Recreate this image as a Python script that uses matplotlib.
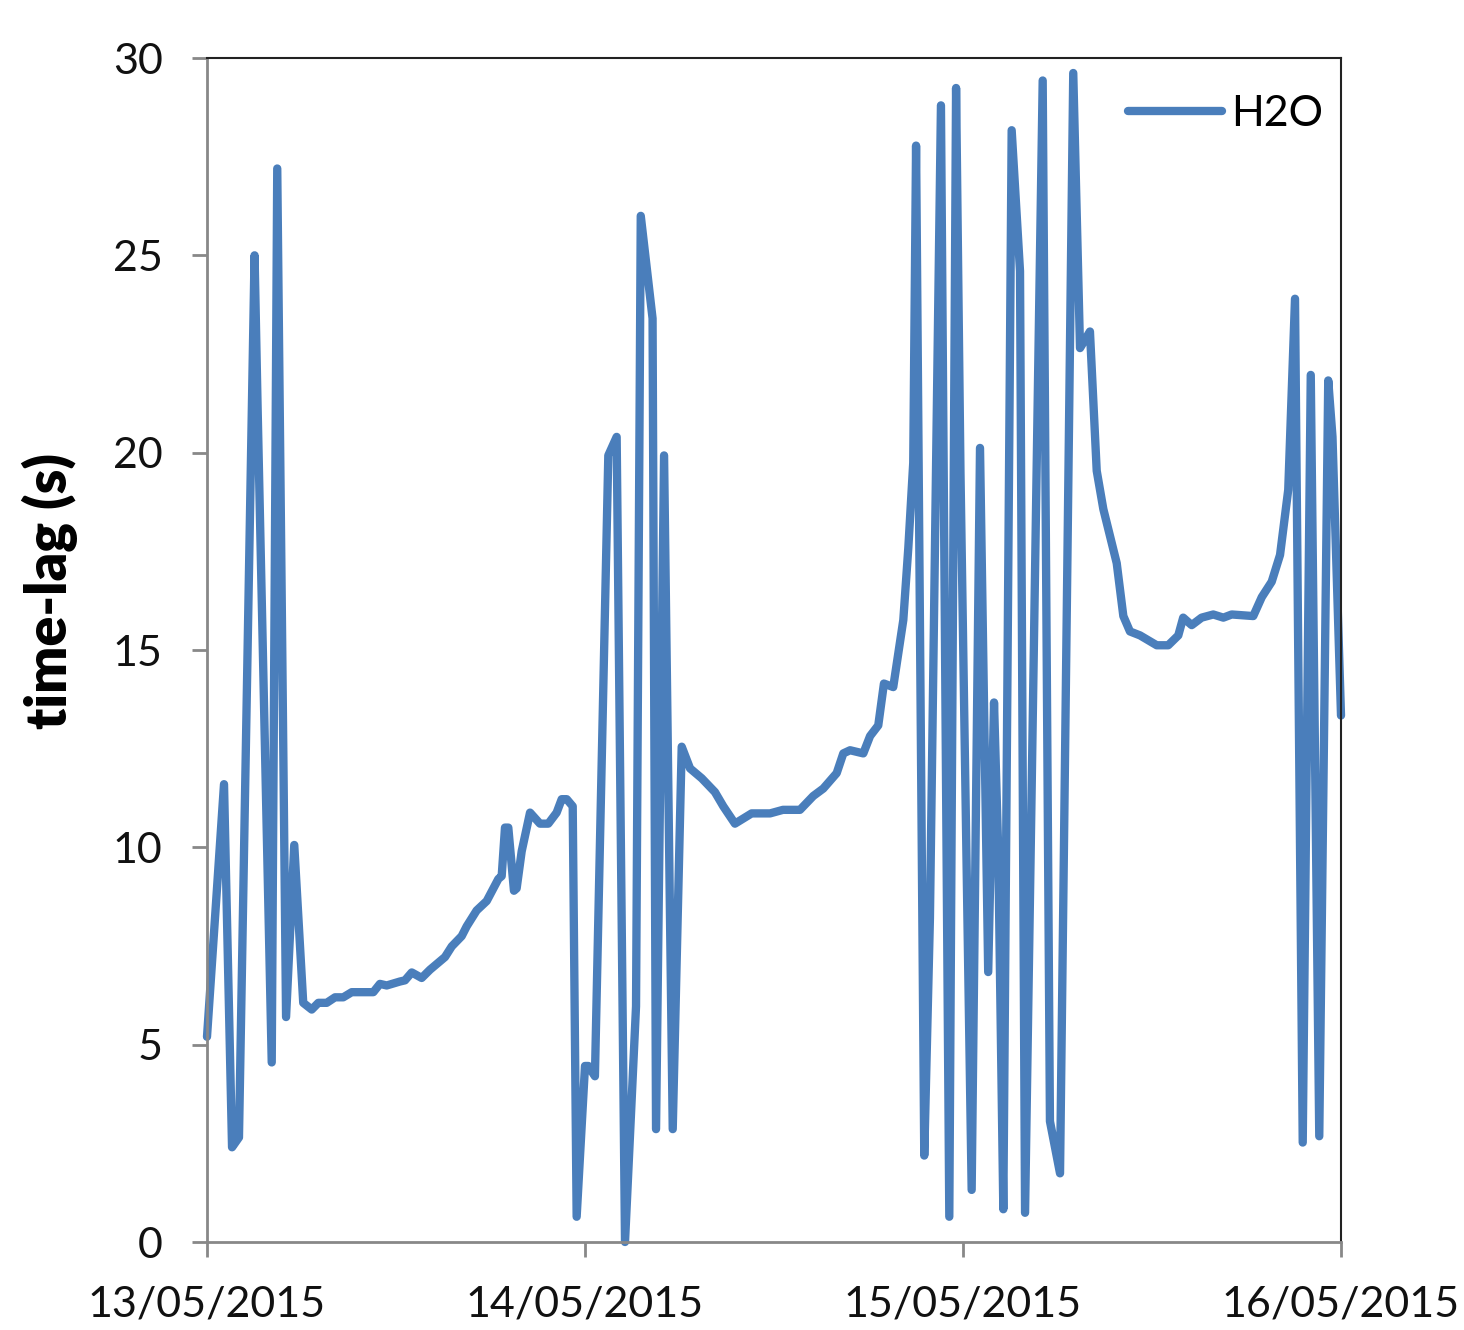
import matplotlib
matplotlib.use("Agg")
import matplotlib.pyplot as plt
import numpy as np
import pandas as pd

# hours since 13/05/2015 00:00
hours = [0.0, 1.08, 1.59, 2.03, 3.02, 3.21, 4.11, 4.46, 5.02, 5.54, 6.11, 6.65, 7.07, 7.60,
         8.13, 8.65, 9.19, 10.56, 10.98, 11.41, 12.25, 12.57, 13.0, 13.63, 14.16, 15.11,
         15.54, 16.17, 16.49, 17.12, 17.76, 18.50, 18.71, 18.92, 19.13, 19.49, 19.66, 19.98,
         20.51, 21.14, 21.67, 22.2, 22.52, 22.84, 23.22, 23.47, 24.0, 24.21, 24.63, 25.48,
         26.01, 26.54, 27.24, 27.54, 28.29, 28.51, 29.02, 29.57, 30.14, 30.67, 31.41, 32.25,
         32.78, 33.52, 34.58, 35.75, 36.57, 37.65, 38.49, 39.13, 39.98, 40.40, 40.83, 41.67,
         42.10, 42.62, 42.98, 43.57, 44.21, 44.53, 44.84, 45.02, 45.54, 45.9, 46.60, 47.13,
         47.56, 47.84, 48.55, 49.08, 49.6, 49.97, 50.24, 50.56, 51.09, 51.62, 51.94, 53.06,
         53.52, 54.16, 55.0, 55.43, 56.06, 56.49, 56.91, 57.76, 58.18, 58.6, 59.24, 60.3,
         61.03, 61.67, 61.98, 62.52, 63.15, 63.89, 64.53, 65.06, 66.43, 66.97, 67.6, 68.13,
         68.65, 69.08, 69.57, 70.08, 70.62, 71.19, 71.46, 72.0]
h2o = [5.2, 11.6, 2.4, 2.65, 25.0, 21.2, 4.55, 27.2, 5.7, 10.06, 6.06, 5.89, 6.06, 6.06,
       6.2, 6.2, 6.33, 6.33, 6.54, 6.5, 6.6, 6.63, 6.83, 6.69, 6.9, 7.22,
       7.49, 7.75, 8.0, 8.4, 8.64, 9.2, 9.27, 10.5, 10.5, 8.9, 8.96, 9.9,
       10.88, 10.6, 10.6, 10.88, 11.22, 11.22, 11.04, 0.64, 4.46, 4.46, 4.2, 19.93,
       20.4, 0.0, 5.97, 26.0, 23.4, 2.86, 19.93, 2.86, 12.55, 12.0, 11.75, 11.4,
       11.04, 10.6, 10.86, 10.86, 10.95, 10.95, 11.3, 11.49, 11.88, 12.38, 12.46, 12.38,
       12.82, 13.09, 14.15, 14.06, 15.76, 17.6, 19.74, 27.78, 2.19, 8.2, 28.8, 0.64,
       29.24, 19.5, 1.32, 20.12, 6.84, 13.67, 9.85, 0.83, 28.17, 24.6, 0.74, 29.43,
       3.06, 1.74, 29.62, 22.65, 23.07, 19.54, 18.57, 17.2, 15.86, 15.47, 15.37, 15.12,
       15.12, 15.37, 15.82, 15.63, 15.82, 15.9, 15.82, 15.9, 15.86, 16.34, 16.73, 17.41,
       19.06, 23.9, 2.52, 21.97, 2.68, 21.83, 20.4, 13.34]

start = pd.Timestamp("2015-05-13")
times = [start + pd.Timedelta(hours=h) for h in hours]
tick_dates = [pd.Timestamp("2015-05-13"), pd.Timestamp("2015-05-14"),
              pd.Timestamp("2015-05-15"), pd.Timestamp("2015-05-16")]
tick_labels = ["13/05/2015", "14/05/2015", "15/05/2015", "16/05/2015"]
yticks = [0, 5, 10, 15, 20, 25, 30]

plt.rcParams['font.family'] = ['Lato', 'DejaVu Sans']

fig = plt.figure(figsize=(14.64, 13.30), dpi=100)
ax = fig.add_axes([207/1464, 1-1242/1330, (1341-207)/1464, (1242-58)/1330])

ax.plot(times, h2o, color="#4a7ebb", lw=6, solid_joinstyle='round',
        solid_capstyle='round', clip_on=False, label="H2O")

ax.set_xlim(tick_dates[0], tick_dates[-1])
ax.set_ylim(0, 30)
ax.set_xticks(tick_dates)
ax.set_xticklabels(tick_labels)
ax.set_yticks(yticks)

gray = "#888888"
for s in ["left", "bottom"]:
    ax.spines[s].set_color(gray)
    ax.spines[s].set_linewidth(2)
for s in ["top", "right"]:
    ax.spines[s].set_color("#222222")
    ax.spines[s].set_linewidth(1.5)

ax.tick_params(axis='x', direction='out', length=11, width=2, color=gray,
               labelsize=31, pad=20, labelcolor="#111111")
ax.tick_params(axis='y', direction='out', length=11, width=2, color=gray,
               labelsize=31, pad=21, labelcolor="#111111")

ax.set_ylabel("time-lag (s)", fontsize=40, fontweight='heavy')
ax.yaxis.set_label_coords(-0.114, 0.55)

leg = ax.legend(loc='upper right', bbox_to_anchor=(1.0106, 0.994), frameon=False,
                fontsize=31, handlelength=2.2, handletextpad=0.2, borderaxespad=0.3)

fig.savefig("out.png", dpi=100, facecolor="white")
